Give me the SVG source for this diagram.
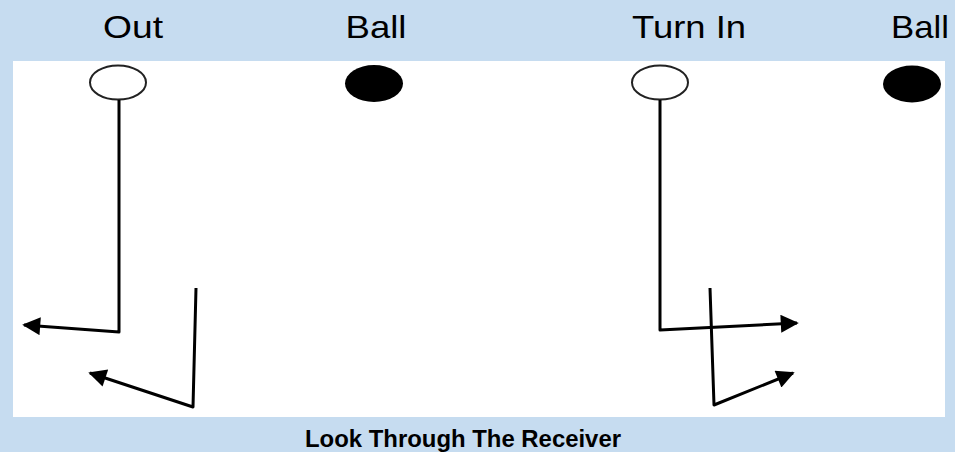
<svg xmlns="http://www.w3.org/2000/svg" width="955" height="452" viewBox="0 0 955 452">
<defs>
<style>
.lbl{font-family:"Liberation Sans",Arial,sans-serif;font-size:32px;fill:#000;text-anchor:middle}
.cap{font-family:"Liberation Sans",Arial,sans-serif;font-size:23px;font-weight:bold;fill:#000;text-anchor:middle}
.route{fill:none;stroke:#000;stroke-width:3;stroke-linejoin:round;marker-end:url(#ah)}
.rcv{fill:#fff;stroke:#222;stroke-width:2}
.ball{fill:#000}
</style>
<marker id="ah" viewBox="0 0 10 10" refX="9" refY="5" markerWidth="7" markerHeight="6" markerUnits="strokeWidth" orient="auto">
<path d="M0,0 L10,5 L0,10 Z" fill="#000"/>
</marker>
</defs>
<rect width="955" height="452" fill="#c6dcf0"/>
<rect x="13" y="61" width="932" height="356" fill="#fff"/>
<g id="label-out"><text class="lbl" x="133" y="38" textLength="60" lengthAdjust="spacingAndGlyphs">Out</text></g>
<g id="label-ball1"><text class="lbl" x="376" y="38" textLength="61" lengthAdjust="spacingAndGlyphs">Ball</text></g>
<g id="label-turnin"><text class="lbl" x="689" y="38" textLength="114" lengthAdjust="spacingAndGlyphs">Turn In</text></g>
<g id="label-ball2"><text class="lbl" x="920" y="38" textLength="58" lengthAdjust="spacingAndGlyphs">Ball</text></g>
<g id="receiver-out"><ellipse class="rcv" cx="118" cy="82.5" rx="28" ry="17"/></g>
<g id="ball-1"><ellipse class="ball" cx="374" cy="83.5" rx="29" ry="18.5"/></g>
<g id="receiver-turnin"><ellipse class="rcv" cx="660" cy="82.5" rx="28" ry="17"/></g>
<g id="ball-2"><ellipse class="ball" cx="912" cy="84" rx="29" ry="18.5"/></g>
<g id="connectors">
<path class="route" d="M119,100 L119,332 L24,325"/>
<path class="route" d="M196,288 L193,407 L90,373"/>
<path class="route" d="M660,100 L660,330 L797,323"/>
<path class="route" d="M710,288 L714,405 L793,373"/>
</g>
<g id="caption"><text class="cap" x="463" y="447" textLength="316" lengthAdjust="spacingAndGlyphs">Look Through The Receiver</text></g>
</svg>
